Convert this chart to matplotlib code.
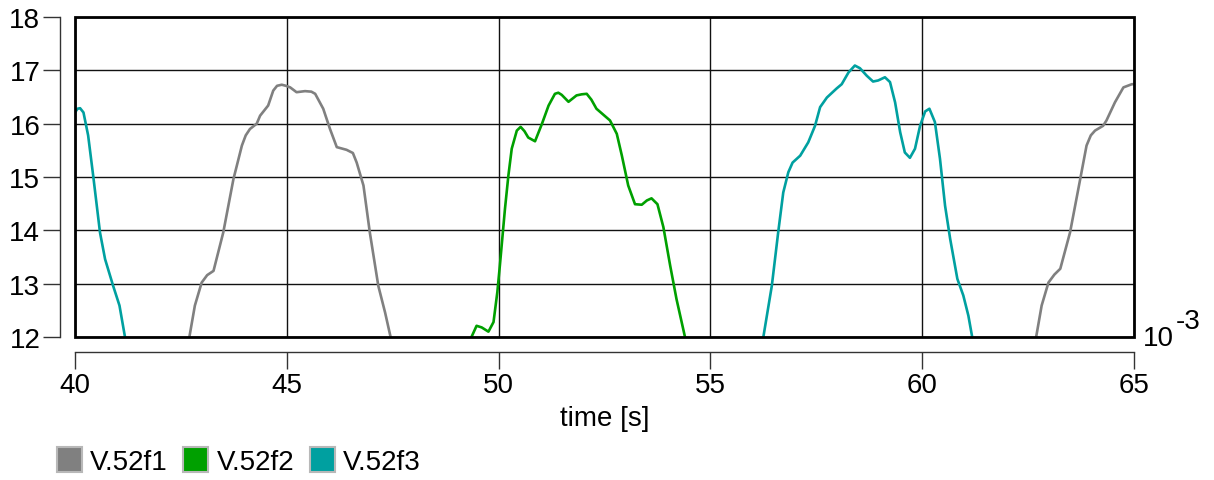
import numpy as np
import matplotlib
matplotlib.use("Agg")
from matplotlib import pyplot as plt
from matplotlib.patches import Patch, Rectangle

plt.rcParams['font.family'] = ['Liberation Sans', 'DejaVu Sans']

nan = np.nan

# V.52f1 (grey), two pulses
f1_x = [42.70, 42.83, 42.99, 43.12, 43.27, 43.50, 43.74, 43.94, 44.03, 44.13, 44.29, 44.37, 44.56,
        44.68, 44.77, 44.88, 44.98, 45.08, 45.23, 45.43, 45.58, 45.67, 45.86, 46.02, 46.18, 46.41,
        46.56, 46.65, 46.81, 46.96, 47.16, 47.32, 47.45,
        nan,
        62.69, 62.82, 62.98, 63.12, 63.26, 63.49, 63.73, 63.88, 63.98, 64.08, 64.27, 64.35, 64.55,
        64.75, 64.95, 65.0]
f1_y = [12.00, 12.59, 13.02, 13.16, 13.24, 13.96, 14.96, 15.59, 15.78, 15.90, 16.00, 16.15, 16.34,
        16.62, 16.71, 16.73, 16.71, 16.68, 16.59, 16.61, 16.60, 16.56, 16.28, 15.90, 15.56, 15.51,
        15.45, 15.27, 14.84, 13.96, 12.96, 12.46, 12.00,
        nan,
        12.00, 12.59, 13.02, 13.17, 13.28, 13.96, 14.96, 15.59, 15.78, 15.87, 15.96, 16.06, 16.40,
        16.68, 16.74, 16.74]

# V.52f2 (green)
f2_x = [49.36, 49.48, 49.60, 49.76, 49.88, 49.97, 50.03, 50.15, 50.23, 50.31, 50.43, 50.52, 50.61,
        50.70, 50.86, 51.02, 51.18, 51.33, 51.41, 51.49, 51.65, 51.84, 51.96, 52.08, 52.19, 52.31,
        52.63, 52.79, 52.91, 53.06, 53.22, 53.38, 53.50, 53.61, 53.75, 53.89, 54.05, 54.20, 54.40]
f2_y = [12.00, 12.21, 12.18, 12.10, 12.28, 12.84, 13.34, 14.40, 15.02, 15.53, 15.87, 15.94, 15.86,
        15.74, 15.67, 15.99, 16.34, 16.56, 16.58, 16.54, 16.41, 16.53, 16.55, 16.56, 16.45, 16.28,
        16.06, 15.81, 15.40, 14.84, 14.49, 14.48, 14.56, 14.60, 14.49, 14.06, 13.34, 12.71, 12.00]

# V.52f3 (teal), tail of one pulse and a full one
f3_x = [40.00, 40.06, 40.12, 40.20, 40.31, 40.43, 40.59, 40.71, 40.90, 41.05, 41.18,
        nan,
        56.25, 56.45, 56.60, 56.72, 56.84, 56.94, 57.12, 57.31, 57.47, 57.59, 57.75, 57.98, 58.10,
        58.26, 58.41, 58.53, 58.69, 58.84, 58.96, 59.12, 59.24, 59.36, 59.48, 59.59, 59.71, 59.83,
        59.95, 60.07, 60.17, 60.30, 60.42, 60.54, 60.66, 60.83, 60.97, 61.09, 61.18]
f3_y = [16.21, 16.28, 16.29, 16.21, 15.78, 15.02, 13.96, 13.46, 12.96, 12.59, 12.00,
        nan,
        12.00, 12.96, 13.96, 14.71, 15.09, 15.27, 15.40, 15.65, 15.96, 16.31, 16.49, 16.66, 16.74,
        16.96, 17.09, 17.04, 16.90, 16.79, 16.81, 16.87, 16.78, 16.40, 15.84, 15.46, 15.36, 15.53,
        15.96, 16.23, 16.28, 16.03, 15.34, 14.46, 13.84, 13.09, 12.78, 12.40, 12.00]

names = ['V.52f1', 'V.52f2', 'V.52f3']
colors = ['#808080', '#00a000', '#00a0a0']

fig = plt.figure(figsize=(12.14, 4.81), dpi=100)
ax = fig.add_axes([75 / 1214, 143 / 481, 1059 / 1214, 320 / 481])

for xs, ys, c in zip([f1_x, f2_x, f3_x], [f1_y, f2_y, f3_y], colors):
    ax.plot(xs, ys, color=c, lw=1.9, solid_joinstyle='round')

ax.set_xlim(40, 65)
ax.set_ylim(12, 18)
ax.set_xticks(np.arange(40, 66, 5))
ax.set_yticks(np.arange(12, 19, 1))
ax.grid(True, color='#111111', lw=1.0)
ax.set_axisbelow(True)

for s in ['top', 'right']:
    ax.spines[s].set_visible(False)
for s in ['left', 'bottom']:
    ax.spines[s].set_position(('outward', 11))
    ax.spines[s].set_color('#333333')
    ax.spines[s].set_linewidth(1.0)

ax.add_patch(Rectangle((0, 0), 1, 1, transform=ax.transAxes, fill=False,
                       edgecolor='black', lw=2.0, clip_on=False, zorder=5))

ax.tick_params(direction='out', length=12, width=1.0, color='#333333',
               labelsize=20, pad=2)
ax.set_xlabel('time [s]', fontsize=20, labelpad=5)

ax.annotate('10', xy=(1, 0), xycoords='axes fraction', xytext=(9, -1),
            textcoords='offset pixels', fontsize=20, ha='left', va='center')
ax.annotate('-3', xy=(1, 0), xycoords='axes fraction', xytext=(42, 16),
            textcoords='offset pixels', fontsize=20, ha='left', va='center')

handles = [Patch(facecolor=c, edgecolor='#b8b8b8', lw=1.5) for c in colors]
fig.legend(handles, names, loc='center left', bbox_to_anchor=(57 / 1214, 19 / 481),
           ncol=3, frameon=False, fontsize=20, borderpad=0, borderaxespad=0,
           handlelength=0.9, handleheight=1.0, handletextpad=0.3, columnspacing=0.55)

fig.savefig('out.png', dpi=100)
